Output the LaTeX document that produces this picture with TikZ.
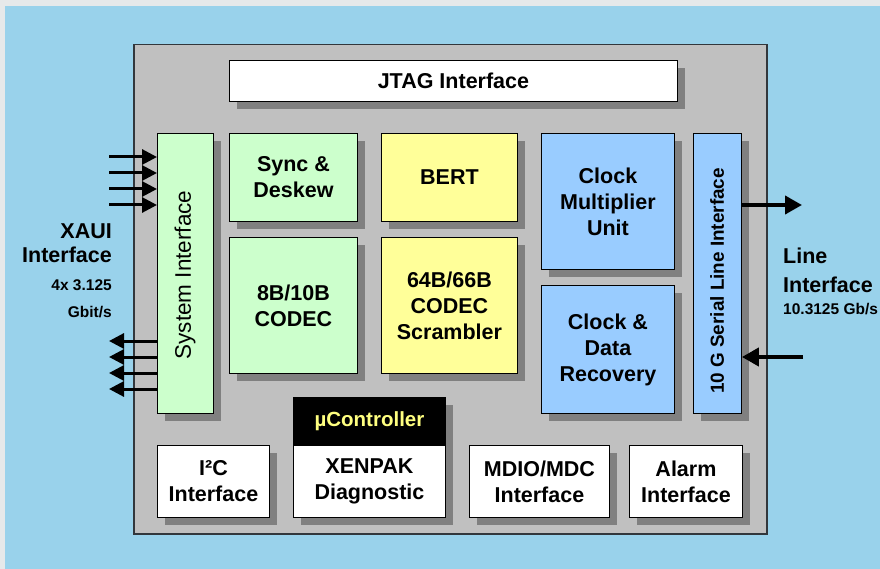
\documentclass[tikz,border=0pt]{standalone}
\usepackage{fontspec}
\setmainfont{Liberation Sans}
\usetikzlibrary{shadows,arrows.meta}
\definecolor{bgblue}{RGB}{153,210,235}
\definecolor{framegray}{RGB}{230,233,234}
\definecolor{chipgray}{RGB}{192,192,192}
\definecolor{chipline}{RGB}{50,55,60}
\definecolor{shadowgray}{RGB}{128,128,128}
\definecolor{blkgreen}{RGB}{204,255,204}
\definecolor{blkyellow}{RGB}{255,255,153}
\definecolor{blkblue}{RGB}{153,204,255}
\definecolor{uctext}{RGB}{255,255,128}
\begin{document}
\begin{tikzpicture}[x=1pt,y=-1pt,
  blk/.style={draw=black, line width=0.9pt, rectangle, inner sep=0pt, align=center,
    anchor=north west, font=\fontsize{21.5}{26}\selectfont\bfseries,
    drop shadow={shadow xshift=8pt, shadow yshift=-8pt, fill=shadowgray, opacity=1}},
  green/.style={fill=blkgreen},
  yellow/.style={fill=blkyellow},
  blue/.style={fill=blkblue},
  white/.style={fill=white},
  chip/.style={draw=chipline, line width=1.5pt, fill=chipgray, rectangle, inner sep=0pt, anchor=north west},
  lbl/.style={inner sep=0pt, font=\fontsize{21.5}{26}\selectfont\bfseries},
  small/.style={inner sep=0pt, font=\fontsize{15.5}{18}\selectfont\bfseries},
  inarr/.style={line width=3pt, -{Triangle[length=15pt,width=15pt]}},
  linearr/.style={line width=4pt, -{Triangle[length=17pt,width=18pt]}}
]
\useasboundingbox (0,0) rectangle (880,569);
\fill[framegray] (0,0) rectangle (880,569);
\fill[bgblue] (5,6) rectangle (880,569);

\node[chip, minimum width=633pt, minimum height=489pt] (chip) at (133,44) {};

\node[blk, white, minimum width=448pt, minimum height=41pt] (jtag) at (229,60) {JTAG Interface};
\node[blk, green, minimum width=56pt, minimum height=280pt] (sys) at (157,133) {};
\node[rotate=90, inner sep=0pt, font=\fontsize{22.5}{26}\selectfont] (systxt) at (185,275) {System Interface};
\node[blk, green, minimum width=128pt, minimum height=88pt] (sync) at (229,133) {Sync \&\\Deskew};
\node[blk, green, minimum width=128pt, minimum height=136pt] (codeca) at (229,237) {8B/10B\\CODEC};
\node[blk, yellow, minimum width=136pt, minimum height=88pt] (bert) at (381,133) {BERT};
\node[blk, yellow, minimum width=136pt, minimum height=136pt] (codecb) at (381,237) {64B/66B\\CODEC\\Scrambler};
\node[blk, blue, minimum width=133pt, minimum height=136pt] (cmu) at (541,133) {Clock\\Multiplier\\Unit};
\node[blk, blue, minimum width=133pt, minimum height=128pt] (cdr) at (541,285) {Clock \&\\Data\\Recovery};
\node[blk, blue, minimum width=48pt, minimum height=280pt] (ser) at (693,133) {};
\node[rotate=90, inner sep=0pt, font=\fontsize{18.9}{22}\selectfont\bfseries] (sertxt) at (717,281) {10 G Serial Line Interface};

\node[blk, fill=black, text=uctext, font=\fontsize{20.5}{24}\selectfont\bfseries, minimum width=152pt, minimum height=48pt] (uc) at (293,397) {µController};
\node[blk, white, minimum width=152pt, minimum height=72pt] (xen) at (293,445) {XENPAK\\Diagnostic};
\node[blk, white, minimum width=112pt, minimum height=72pt] (i2c) at (157,445) {I²C\\Interface};
\node[blk, white, minimum width=140pt, minimum height=72pt] (mdio) at (469,445) {MDIO/MDC\\Interface};
\node[blk, white, minimum width=113pt, minimum height=72pt] (alarm) at (629,445) {Alarm\\Interface};

% XAUI side
\foreach \i/\yy in {1/157,2/173,3/189,4/205} {
  \coordinate (xin\i) at (109,\yy);
  \draw[inarr] (xin\i) -- (xin\i -| sys.west);
}
\foreach \i/\yy in {1/341,2/357,3/373,4/389} {
  \coordinate (xout\i) at (109,\yy);
  \draw[inarr] (xout\i -| sys.west) -- (xout\i);
}
\node[lbl, anchor=base east] (xaui1) at (112,239) {XAUI};
\node[lbl, anchor=base east] (xaui2) at (112,262) {Interface};
\node[small, anchor=base east] (xaui3) at (112,290) {4x 3.125};
\node[small, anchor=base east] (xaui4) at (112,317) {Gbit/s};

% Line side
\coordinate (lout) at (802,205);
\coordinate (lin) at (803,357);
\draw[linearr] (lout -| ser.east) -- (lout);
\draw[linearr] (lin) -- (lin -| ser.east);
\node[lbl, anchor=base west] (line1) at (783,264) {Line};
\node[lbl, anchor=base west] (line2) at (783,292) {Interface};
\node[small, anchor=base west] (line3) at (783,314) {10.3125 Gb/s};
\end{tikzpicture}
\end{document}
